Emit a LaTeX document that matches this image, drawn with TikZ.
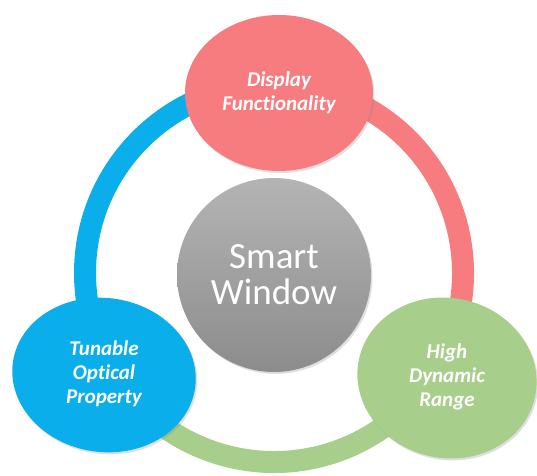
\documentclass[tikz,border=0pt]{standalone}
\usepackage{fontspec}
\setmainfont{Carlito}[Ligatures={NoCommon,NoContextual}]
\usetikzlibrary{shapes.geometric,shadows}
\definecolor{redc}{RGB}{247,124,128}
\definecolor{cyanc}{RGB}{10,174,234}
\definecolor{greenc}{RGB}{167,207,139}
\definecolor{graytop}{RGB}{180,180,180}
\definecolor{graybot}{RGB}{140,140,140}
\tikzset{
  ringseg/.style={line width=22pt},
  bubble/.style={ellipse, inner sep=0pt, text=white, align=center,
    font=\fontsize{21}{24}\selectfont\bfseries\itshape,
    drop shadow={shadow xshift=1.5pt, shadow yshift=-2pt, opacity=0.25}},
  hub/.style={circle, inner sep=0pt, minimum size=194pt, text=white, align=center,
    top color=graytop, bottom color=graybot,
    font=\fontsize{37}{36}\selectfont,
    drop shadow={shadow xshift=1.5pt, shadow yshift=-2pt, opacity=0.25}}
}
\begin{document}
\begin{tikzpicture}[x=1pt,y=1pt]
\useasboundingbox (0,0) rectangle (537,475);
\fill[white] (0,0) rectangle (537,475);
\coordinate (C) at (274,202);
% ring
\draw[ringseg, cyanc] ([shift={(90:189)}]C) arc[start angle=90, end angle=211, radius=189];
\draw[ringseg, redc] ([shift={(-32:189)}]C) arc[start angle=-32, end angle=90, radius=189];
\draw[ringseg, greenc] ([shift={(211:189)}]C) arc[start angle=211, end angle=328, radius=189];
% nodes
\node[hub] (hub) at (274,200) {Smart\\Window};
\node[bubble, fill=redc, minimum width=188pt, minimum height=156pt] (disp) at (279,382) {Display\\Functionality};
\node[bubble, fill=cyanc, minimum width=184pt, minimum height=154pt, rotate=-8] (tun) at (104,100) {\rotatebox{8}{\begin{tabular}{@{}c@{}}Tunable\\Optical\\Property\end{tabular}}};
\node[bubble, fill=greenc, minimum width=180pt, minimum height=160pt, rotate=-12] (high) at (447,97) {\rotatebox{12}{\begin{tabular}{@{}c@{}}High\\Dynamic\\Range\end{tabular}}};
\end{tikzpicture}
\end{document}
